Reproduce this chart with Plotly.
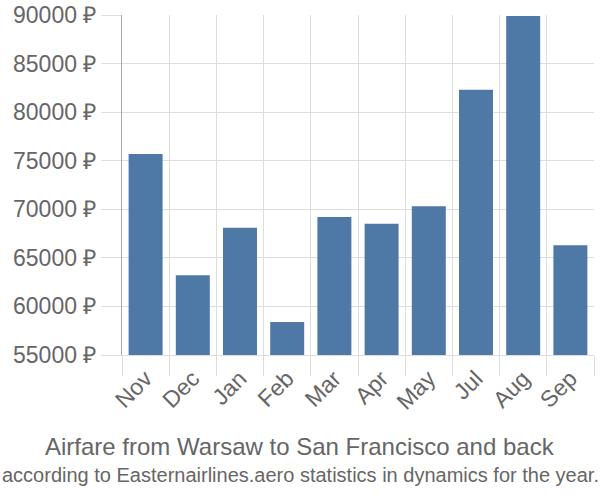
import plotly.graph_objects as go

months = ["Nov", "Dec", "Jan", "Feb", "Mar", "Apr", "May", "Jul", "Aug", "Sep"]
prices = [75700, 63200, 68100, 58400, 69200, 68500, 70300, 82300, 89900, 66300]
y_ticks = [55000, 60000, 65000, 70000, 75000, 80000, 85000, 90000]

title = "Airfare from Warsaw to San Francisco and back"
subtitle = "according to Easternairlines.aero statistics in dynamics for the year."

fig = go.Figure(go.Bar(x=months, y=prices, marker=dict(color="#4E79A7", line=dict(width=0)),
                       hoverinfo="skip"))

font = "Liberation Sans, Arial, sans-serif"
L, R, T, B = 122, 6, 15, 145
plot_w = 600 - L - R
plot_h = 500 - T - B
fig.update_layout(
    width=600, height=500,
    margin=dict(l=L, r=R, t=T, b=B, autoexpand=False),
    paper_bgcolor="white", plot_bgcolor="white",
    bargap=0.28,
    showlegend=False,
    font=dict(family=font, color="#666666"),
    xaxis=dict(
        type="category", tickson="boundaries", showgrid=True, gridcolor="#dddddd", gridwidth=1,
        ticks="outside", ticklen=20, tickcolor="#dddddd", tickangle=-45,
        tickfont=dict(size=23, color="#666666", family=font), automargin=False,
        showline=True, linecolor="#dddddd", linewidth=1,
    ),
    yaxis=dict(
        range=[55000, 90000], tickvals=y_ticks, ticktext=[f"{v} ₽" for v in y_ticks],
        showgrid=True, gridcolor="#dddddd", gridwidth=1, automargin=False,
        ticks="outside", ticklen=20, tickcolor="#dddddd",
        tickfont=dict(size=23, color="#666666", family=font),
        showline=True, linecolor="#aaaaaa", linewidth=1, zeroline=False,
    ),
    annotations=[
        dict(text=title, xref="paper", yref="paper", showarrow=False,
             x=(300 - L) / plot_w, y=(500 - B - 446) / plot_h, yanchor="middle",
             font=dict(size=24, color="#666666", family=font)),
        dict(text=subtitle, xref="paper", yref="paper", showarrow=False,
             x=(300 - L) / plot_w, y=(500 - B - 475) / plot_h, yanchor="middle",
             font=dict(size=20, color="#666666", family=font)),
    ],
)

fig.write_html("out.html")
